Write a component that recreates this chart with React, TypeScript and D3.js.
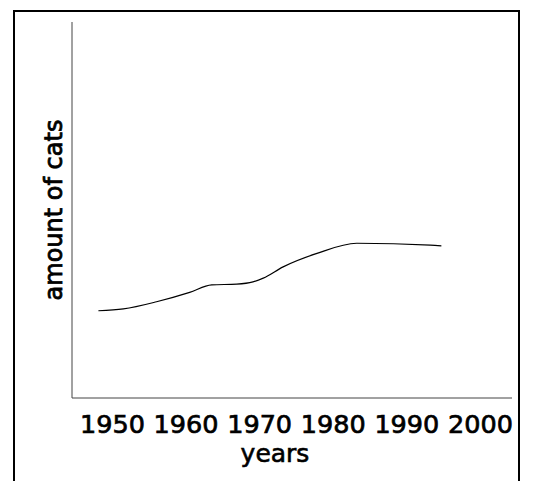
import React from "react";
import * as d3 from "d3";

const years = [1952.5, 1955.9, 1960.4, 1964.9, 1967.9, 1971.3, 1973.5, 1974.9, 1977.6, 1982.2, 1987.6, 1997.6, 1999.1];
const cats = [23.0, 23.5, 25.4, 27.9, 29.9, 30.1, 30.7, 31.7, 34.7, 38.3, 41.0, 40.5, 40.3];
const tickYears = [1950, 1960, 1970, 1980, 1990, 2000];

const W = 539;
const H = 481;
const FONT = "'DejaVu Sans', Verdana, sans-serif";

export default function App() {
  const x = d3.scaleLinear().domain([1950, 2000]).range([80, 448]);
  const y = d3.scaleLinear().domain([0, 100]).range([397, 22]);
  const pts: [number, number][] = years.map((yr, i) => [x(yr), y(cats[i])]);
  const line = d3.line().curve(d3.curveMonotoneX)(pts) || "";

  return (
    <svg
      width={W}
      height={H}
      style={{ position: "absolute", left: 0, top: 0, background: "#fff" }}
    >
      <rect x={14} y={11} width={505} height={520} fill="none" stroke="#000" strokeWidth={2} />
      <line x1={72} y1={22} x2={72} y2={398} stroke="#444" strokeWidth={1} />
      <line x1={72} y1={398} x2={512} y2={398} stroke="#444" strokeWidth={1} />
      <path d={line} fill="none" stroke="#000" strokeWidth={1.2} />
      {tickYears.map((t) => (
        <text
          key={t}
          x={x(t)}
          y={433}
          fontFamily={FONT}
          fontSize={25.5}
          fill="#000"
          stroke="#000"
          strokeWidth={0.7}
          textAnchor="start"
        >
          {t}
        </text>
      ))}
      <text
        x={275}
        y={462}
        fontFamily={FONT}
        fontSize={25}
        fill="#000"
        stroke="#000"
        strokeWidth={0.6}
        textAnchor="middle"
      >
        years
      </text>
      <text
        transform="translate(62,210) rotate(-90)"
        fontFamily={FONT}
        fontSize={24}
        fill="#000"
        stroke="#000"
        strokeWidth={0.8}
        textAnchor="middle"
      >
        amount of cats
      </text>
    </svg>
  );
}
